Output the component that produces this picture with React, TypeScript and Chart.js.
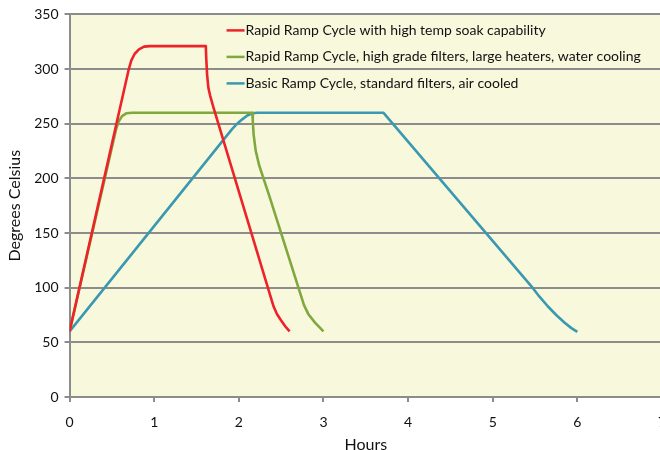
import React, { useEffect, useRef } from "react";
import { Chart, registerables } from "chart.js";

Chart.register(...registerables);

const seriesLabels = [
  "Rapid Ramp Cycle with high temp soak capability",
  "Rapid Ramp Cycle, high grade filters, large heaters, water cooling",
  "Basic Ramp Cycle, standard filters, air cooled",
];

const redHours = [0, 0.7, 0.73, 0.77, 0.82, 0.88, 0.95, 1.61, 1.615, 1.625, 1.64, 1.66, 1.7, 2.41, 2.45, 2.5, 2.55, 2.6];
const redTemps = [60, 300, 308, 314, 318, 320.5, 321, 321, 310, 295, 283, 276, 265, 83, 76, 70, 64.5, 60];

const greenHours = [0, 0.55, 0.58, 0.62, 0.67, 0.74, 2.16, 2.165, 2.175, 2.2, 2.24, 2.3, 2.36, 2.77, 2.82, 2.9, 3.0];
const greenTemps = [60, 245, 252, 257, 259.5, 260, 260, 252, 240, 225, 212, 198, 184, 84, 76, 68, 60];

const blueHours = [0, 1.92, 1.98, 2.04, 2.1, 2.16, 2.22, 3.71, 5.47, 5.55, 5.65, 5.75, 5.85, 5.93, 6.0];
const blueTemps = [60, 245, 250, 254, 257.5, 259.5, 260, 260, 100, 92, 83, 75, 68, 63, 59.5];

const seriesColors = ["#EE2229", "#80A83E", "#3A98B0"];

const xTicks = [0, 1, 2, 3, 4, 5, 6, 7];
const yTicks = [0, 50, 100, 150, 200, 250, 300, 350];

const toPoints = (xs: number[], ys: number[]) => xs.map((x, i) => ({ x, y: ys[i] }));

const FONT = "Lato, 'Open Sans', sans-serif";

const plotBg = {
  id: "plotBg",
  beforeDraw(chart: any) {
    const { ctx, chartArea } = chart;
    ctx.save();
    ctx.fillStyle = "#F8F8DD";
    ctx.fillRect(chartArea.left, chartArea.top, chartArea.right - chartArea.left, chartArea.bottom - chartArea.top);
    ctx.restore();
  },
};

const innerLegend = {
  id: "innerLegend",
  afterDraw(chart: any) {
    const { ctx, chartArea } = chart;
    ctx.save();
    ctx.font = `14px ${FONT}`;
    ctx.textBaseline = "middle";
    chart.data.datasets.forEach((ds: any, i: number) => {
      const y = chartArea.top + 16 + i * 26.5;
      const x = chartArea.left + 157;
      ctx.strokeStyle = ds.borderColor;
      ctx.lineWidth = 2.5;
      ctx.beginPath();
      ctx.moveTo(x, y);
      ctx.lineTo(x + 18, y);
      ctx.stroke();
      ctx.fillStyle = "#111";
      ctx.fillText(ds.label, x + 19, y);
    });
    ctx.restore();
  },
};

export default function App() {
  const ref = useRef<HTMLCanvasElement>(null);
  useEffect(() => {
    document.body.style.margin = "0";
    document.body.style.overflow = "hidden";
    const datasets = [
      toPoints(redHours, redTemps),
      toPoints(greenHours, greenTemps),
      toPoints(blueHours, blueTemps),
    ].map((data, i) => ({
      label: seriesLabels[i],
      data,
      borderColor: seriesColors[i],
      backgroundColor: seriesColors[i],
      borderWidth: 2.6,
      pointRadius: 0,
      tension: 0,
      borderJoinStyle: "round" as const,
      fill: false,
    }));
    const chart = new Chart(ref.current!, {
      type: "line",
      data: { datasets },
      options: {
        responsive: false,
        animation: false,
        layout: { padding: { top: 12, right: 38, left: 5, bottom: -4 } },
        plugins: { legend: { display: false }, tooltip: { enabled: false } },
        scales: {
          x: {
            type: "linear",
            min: 0,
            max: 7,
            afterBuildTicks: (s: any) => { s.ticks = xTicks.map((v) => ({ value: v })); },
            grid: { drawOnChartArea: false, drawTicks: true, tickLength: 5, color: "#8C8C8C", lineWidth: 2 },
            border: { color: "#8C8C8C", width: 2 },
            ticks: { color: "#111", font: { family: FONT, size: 14 }, padding: 12 },
            title: { display: true, text: "Hours", color: "#111", font: { family: FONT, size: 16 }, padding: { top: -8, bottom: 0 } },
          },
          y: {
            min: 0,
            max: 350,
            afterBuildTicks: (s: any) => { s.ticks = yTicks.map((v) => ({ value: v })); },
            grid: { color: "#8C8C8C", lineWidth: 2, tickLength: 5 },
            border: { color: "#8C8C8C", width: 2 },
            ticks: { color: "#111", font: { family: FONT, size: 14 }, padding: 6 },
            title: { display: true, text: "Degrees Celsius", color: "#111", font: { family: FONT, size: 16 }, padding: { top: 0, bottom: 4 } },
          },
        },
      },
      plugins: [plotBg, innerLegend],
    });
    return () => chart.destroy();
  }, []);
  return <canvas ref={ref} width={700} height={450} style={{ display: "block" }} />;
}
